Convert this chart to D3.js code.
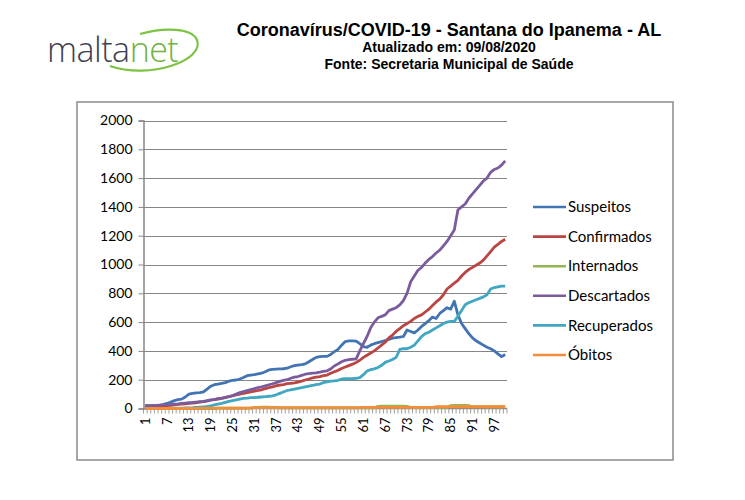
<!DOCTYPE html>
<html>
<head>
<script src="https://d3js.org/d3.v7.min.js"></script>
<style>
  body { margin: 0; background: #fff; }
  text { font-family: Lato, "Open Sans", sans-serif; }
  .title { font-family: "Liberation Sans", Arial, sans-serif; font-weight: bold; }
</style>
</head>
<body>
<div id="chart"></div>
<script>
// series, one value per day (1..100)
var days = d3.range(1, 101);
var xLabels = d3.range(1, 101, 6);
var yTicks = [0, 200, 400, 600, 800, 1000, 1200, 1400, 1600, 1800, 2000];
var seriesNames = ["Suspeitos", "Confirmados", "Internados", "Descartados", "Recuperados", "Óbitos"];
var colors = ["#4274B4", "#BA4542", "#94B650", "#7A5C9E", "#40A6C2", "#F28E3A"];

var suspeitos = [20, 20, 20, 20, 22, 28, 35, 45, 55, 62,
  65, 80, 100, 105, 108, 110, 115, 135, 155, 165,
  170, 175, 180, 190, 195, 198, 205, 215, 228, 232,
  235, 240, 245, 255, 268, 272, 274, 275, 276, 280,
  290, 298, 302, 305, 310, 325, 340, 355, 360, 362,
  362, 375, 395, 410, 440, 465, 470, 470, 468, 450,
  430, 425, 440, 450, 458, 465, 472, 480, 488, 492,
  495, 500, 545, 535, 525, 545, 570, 590, 610, 635,
  625, 660, 680, 700, 690, 745, 650, 590, 555, 520,
  490, 470, 455, 440, 425, 415, 400, 380, 360, 375];
var confirmados = [15, 15, 15, 15, 16, 18, 20, 22, 25, 28,
  30, 32, 35, 38, 40, 44, 48, 52, 58, 62,
  66, 70, 76, 82, 88, 95, 100, 105, 110, 115,
  120, 125, 130, 138, 145, 150, 158, 162, 166, 172,
  175, 178, 183, 190, 198, 205, 212, 218, 222, 228,
  232, 245, 255, 265, 278, 288, 298, 308, 320, 335,
  355, 370, 385, 400, 420, 440, 460, 490, 510, 535,
  555, 575, 590, 605, 625, 640, 650, 670, 690, 715,
  740, 760, 790, 830, 850, 870, 890, 920, 945, 965,
  980, 995, 1010, 1030, 1060, 1090, 1120, 1140, 1160, 1175];
var internados = [0, 0, 0, 0, 0, 0, 0, 0, 0, 0,
  0, 0, 0, 0, 0, 0, 0, 0, 0, 0,
  2, 2, 2, 2, 2, 2, 2, 2, 2, 2,
  8, 8, 10, 10, 10, 8, 8, 5, 5, 5,
  5, 5, 5, 5, 5, 5, 5, 5, 5, 5,
  5, 5, 5, 5, 5, 5, 5, 5, 5, 5,
  5, 5, 5, 5, 15, 16, 16, 16, 16, 16,
  16, 16, 15, 8, 8, 8, 8, 8, 8, 8,
  8, 8, 8, 8, 20, 22, 22, 22, 22, 20,
  12, 12, 12, 12, 12, 12, 12, 12, 12, 12];
var descartados = [20, 20, 20, 22, 24, 25, 27, 28, 30, 32,
  35, 38, 40, 42, 45, 48, 50, 55, 60, 62,
  68, 72, 78, 82, 90, 100, 110, 118, 125, 132,
  138, 145, 150, 158, 165, 172, 180, 188, 195, 200,
  210, 218, 222, 230, 238, 242, 245, 248, 252, 258,
  262, 275, 295, 310, 325, 335, 340, 342, 345, 400,
  450, 500, 560, 600, 630, 640, 650, 680, 690, 700,
  720, 750, 800, 880, 920, 960, 980, 1010, 1035, 1055,
  1080, 1100, 1130, 1160, 1200, 1240, 1380, 1400, 1420, 1460,
  1490, 1520, 1550, 1580, 1600, 1640, 1660, 1670, 1690, 1720];
var recuperados = [0, 0, 0, 0, 0, 0, 0, 2, 2, 3,
  3, 5, 5, 6, 8, 10, 12, 14, 18, 25,
  30, 35, 42, 50, 55, 60, 65, 70, 72, 75,
  76, 78, 80, 82, 85, 88, 95, 105, 115, 125,
  130, 135, 140, 145, 150, 155, 160, 165, 170, 180,
  185, 190, 192, 195, 205, 207, 207, 208, 210, 215,
  235, 260, 270, 275, 285, 300, 320, 330, 340, 355,
  410, 415, 415, 425, 440, 470, 500, 520, 530, 545,
  560, 575, 590, 600, 605, 605, 640, 680, 720, 735,
  745, 755, 765, 775, 790, 830, 840, 845, 850, 850];
var obitos = [0, 0, 0, 0, 0, 0, 0, 0, 0, 0,
  0, 0, 0, 0, 0, 3, 3, 3, 3, 3,
  3, 3, 3, 3, 3, 3, 3, 3, 3, 3,
  6, 6, 6, 6, 6, 6, 6, 6, 6, 6,
  6, 6, 6, 6, 6, 6, 6, 6, 6, 6,
  6, 6, 6, 6, 6, 6, 6, 6, 6, 6,
  8, 8, 8, 8, 8, 8, 8, 8, 8, 8,
  8, 8, 8, 8, 8, 8, 8, 8, 8, 8,
  12, 12, 12, 12, 12, 12, 12, 12, 12, 12,
  12, 12, 12, 12, 12, 12, 12, 12, 12, 12];

var allSeries = [suspeitos, confirmados, internados, descartados, recuperados, obitos];

var svg = d3.select("#chart").append("svg")
  .attr("width", 745)
  .attr("height", 500);

// logo
var logo = svg.append("g");
logo.append("path")
  .attr("d", "M110,66 C150,80 205,60 197,40 C192,28 165,27 140,34")
  .attr("fill", "none")
  .attr("stroke", "#7cc243")
  .attr("stroke-width", 2.2);
logo.append("text")
  .attr("x", 47).attr("y", 62)
  .style("font-family", "'Open Sans', sans-serif")
  .style("font-size", "34px")
  .style("font-weight", 300)
  .style("letter-spacing", "-0.5px")
  .selectAll("tspan")
  .data([["malta", "#3e4150"], ["net", "#6cb33f"]])
  .enter().append("tspan")
  .attr("fill", d => d[1])
  .text(d => d[0]);

// titles
svg.append("text").attr("class", "title")
  .attr("x", 449).attr("y", 36)
  .attr("text-anchor", "middle")
  .style("font-size", "18px")
  .text("Coronavírus/COVID-19 - Santana do Ipanema - AL");
svg.append("text").attr("class", "title")
  .attr("x", 449).attr("y", 52)
  .attr("text-anchor", "middle")
  .style("font-size", "14px")
  .text("Atualizado em: 09/08/2020");
svg.append("text").attr("class", "title")
  .attr("x", 449).attr("y", 69)
  .attr("text-anchor", "middle")
  .style("font-size", "14px")
  .text("Fonte: Secretaria Municipal de Saúde");

// chart frame
svg.append("rect")
  .attr("x", 77).attr("y", 102)
  .attr("width", 596).attr("height", 358)
  .attr("fill", "#fff")
  .attr("stroke", "#8c8c8c")
  .attr("stroke-width", 1.5);

var xs = d3.scaleBand().domain(days).range([143.5, 507]).padding(0);
var ys = d3.scaleLinear().domain([0, 2000]).range([408.5, 120.5]);
var bw = xs.bandwidth();

// gridlines
svg.append("g").selectAll("line")
  .data(yTicks.slice(1))
  .enter().append("line")
  .attr("x1", 143.5).attr("x2", 507)
  .attr("y1", d => Math.round(ys(d)) + 0.5)
  .attr("y2", d => Math.round(ys(d)) + 0.5)
  .attr("stroke", "#868686");

// y axis
var yAxis = d3.axisLeft(ys).tickValues(yTicks).tickFormat(d3.format("d")).tickSize(5).tickPadding(6);
var gy = svg.append("g").attr("transform", "translate(143.5,0)").call(yAxis);
gy.select(".domain").attr("stroke", "#868686").attr("stroke-width", 1.5);
gy.selectAll(".tick line").attr("stroke", "#868686");
gy.selectAll(".tick text").style("font-family", "Lato, sans-serif").style("font-size", "14px").attr("fill", "#000");

// x axis: tick marks at each category boundary
var gx = svg.append("g").attr("transform", "translate(0,408.5)");
gx.append("line").attr("x1", 143.5).attr("x2", 507).attr("stroke", "#868686").attr("stroke-width", 1.5);
gx.selectAll(".tk")
  .data(days.concat([101]))
  .enter().append("line")
  .attr("class", "tk")
  .attr("x1", d => d <= 100 ? xs(d) : xs(100) + bw)
  .attr("x2", d => d <= 100 ? xs(d) : xs(100) + bw)
  .attr("y1", 0).attr("y2", 5)
  .attr("stroke", "#868686")
  .attr("stroke-width", 0.8);
gx.selectAll(".lbl")
  .data(xLabels)
  .enter().append("text")
  .attr("class", "lbl")
  .attr("transform", d => "translate(" + (xs(d) + bw / 2 + 4.5) + ",9) rotate(-90)")
  .attr("text-anchor", "end")
  .style("font-size", "13px")
  .attr("fill", "#000")
  .text(d => d);

// lines
var line = d3.line()
  .x((d, i) => xs(days[i]) + bw / 2)
  .y(d => ys(d));

svg.append("g").selectAll("path")
  .data(allSeries)
  .enter().append("path")
  .attr("d", d => line(d))
  .attr("fill", "none")
  .attr("stroke", (d, i) => colors[i])
  .attr("stroke-width", 2.8)
  .attr("stroke-linejoin", "round");

// legend
var legend = svg.append("g").selectAll("g")
  .data(seriesNames)
  .enter().append("g")
  .attr("transform", (d, i) => "translate(533," + (207 + i * 29.6) + ")");
legend.append("line")
  .attr("x1", 0).attr("x2", 33)
  .attr("stroke", (d, i) => colors[i])
  .attr("stroke-width", 2.6);
legend.append("text")
  .attr("x", 35).attr("dy", "0.35em")
  .style("font-size", "15px")
  .attr("fill", "#000")
  .text(d => d);
</script>
</body>
</html>
